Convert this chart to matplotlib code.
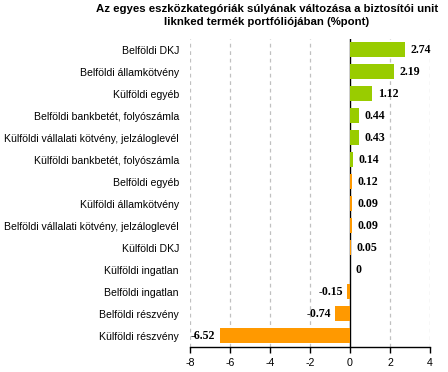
import matplotlib
matplotlib.use("Agg")
import matplotlib.pyplot as plt

categories = [
    "Belföldi DKJ",
    "Belföldi államkötvény",
    "Külföldi egyéb",
    "Belföldi bankbetét, folyószámla",
    "Külföldi vállalati kötvény, jelzáloglevél",
    "Külföldi bankbetét, folyószámla",
    "Belföldi egyéb",
    "Külföldi államkötvény",
    "Belföldi vállalati kötvény, jelzáloglevél",
    "Külföldi DKJ",
    "Külföldi ingatlan",
    "Belföldi ingatlan",
    "Belföldi részvény",
    "Külföldi részvény",
]
values = [2.74, 2.19, 1.12, 0.44, 0.43, 0.14, 0.12, 0.09, 0.09, 0.05, 0.0, -0.15, -0.74, -6.52]
labels = ["2.74", "2.19", "1.12", "0.44", "0.43", "0.14", "0.12", "0.09", "0.09", "0.05", "0", "-0.15", "-0.74", "-6.52"]
groups = ["g"] * 6 + ["o"] * 8
xticks = [-8, -6, -4, -2, 0, 2, 4]
title = "Az egyes eszközkategóriák súlyának változása a biztosítói unit\nliknked termék portfóliójában (%pont)"

colors = {"g": "#99CC00", "o": "#FF9900"}

fig = plt.figure(figsize=(4.48, 3.72), dpi=100)
W, H = 448, 372
ax = fig.add_axes([190 / W, (H - 346.7) / H, 240 / W, 308 / H])

y = list(range(len(categories)))
ax.barh(y, values, height=0.68, color=[colors[g] for g in groups], zorder=5,
        linewidth=0)
ax.set_ylim(len(categories) - 0.5, -0.5)
ax.set_xlim(-8, 4)
ax.set_yticks(y)
ax.set_yticklabels(categories, fontsize=7.55, family="Liberation Sans")
ax.tick_params(axis="y", length=0, pad=8)
ax.set_xticks(xticks)
ax.set_xticklabels([str(t) for t in xticks], fontsize=7.7, family="Liberation Sans")
ax.tick_params(axis="x", length=4, width=1, pad=4, direction="out")

for t in xticks:
    if t == 0:
        ax.axvline(0, color="black", lw=1.0, zorder=4)
    else:
        ax.axvline(t, color="#C0C0C0", lw=0.9, ls=(0, (3, 3)), zorder=1)

for s in ["top", "right", "left"]:
    ax.spines[s].set_visible(False)
ax.spines["bottom"].set_linewidth(1.0)

for yi, v, lab in zip(y, values, labels):
    if v >= 0:
        ax.annotate(lab, (v, yi), xytext=(4, 0), textcoords="offset points",
                    ha="left", va="center", fontsize=8.6, fontweight="bold",
                    family="Liberation Serif", zorder=6)
    else:
        ax.annotate(lab, (v, yi), xytext=(-3, 0), textcoords="offset points",
                    ha="right", va="center", fontsize=8.6, fontweight="bold",
                    family="Liberation Serif", zorder=6)

fig.text(267 / W, 1 - 4.5 / H, title, ha="center", va="top", fontsize=8.2,
         fontweight="bold", family="Liberation Sans", linespacing=1.35)

fig.savefig("out.png", dpi=100)
